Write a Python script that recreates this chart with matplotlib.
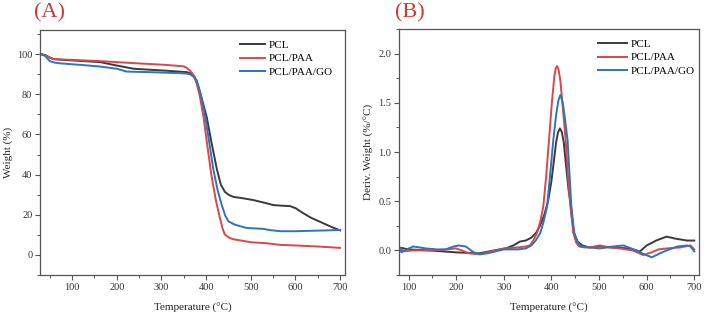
import matplotlib
matplotlib.use("Agg")
import matplotlib.pyplot as plt
from matplotlib.ticker import MultipleLocator

plt.rcParams['font.family'] = ['Liberation Serif', 'DejaVu Serif']

# ---------------- Panel A: TGA ----------------
tA_pcl = [30, 40, 50, 58, 80, 120, 163, 200, 238, 275, 320, 357, 365, 372, 380, 390, 401, 412,
          424, 433, 442, 450, 461, 480, 506, 530, 551, 570, 588, 600, 618, 635, 655, 680, 700]
wA_pcl = [100, 99.5, 98.3, 97.5, 97.1, 96.6, 96.0, 94.3, 92.7, 92.2, 91.6, 91.0, 90.4, 89, 85.5, 78, 69, 56,
          42.8, 35, 31.4, 30, 28.9, 28.3, 27.3, 26, 24.8, 24.5, 24.3, 23.3, 20.7, 18.5, 16.5, 14, 12.2]

tA_paa = [30, 40, 50, 58, 100, 163, 238, 312, 350, 357, 365, 375, 385, 394, 403, 412, 422, 431,
          437, 442, 452, 461, 480, 500, 536, 566, 600, 650, 700]
wA_paa = [100, 99.3, 98.2, 97.5, 97.1, 96.5, 95.5, 94.6, 93.9, 93.1, 91.5, 88.6, 80, 69, 54, 39.5, 27, 18.3,
          13, 10.1, 8.5, 7.8, 7.1, 6.3, 5.8, 5.0, 4.7, 4.2, 3.5]

tA_go = [30, 40, 50, 60, 73, 120, 163, 200, 222, 275, 342, 357, 364, 372, 379, 388, 398, 407, 416,
         426, 435, 443, 450, 465, 491, 527, 545, 566, 600, 650, 700]
wA_go = [100, 99, 96.5, 95.8, 95.4, 94.6, 93.8, 92.7, 91.3, 91.0, 90.5, 90.3, 89.9, 88.8, 87, 80, 69, 56, 42.8,
         32, 24.8, 19.5, 16.7, 15, 13.4, 13.0, 12.3, 11.8, 11.8, 12.1, 12.4]

# ---------------- Panel B: DTG ----------------
tB_pcl = [80, 100, 143, 200, 248, 280, 304, 320, 334, 346, 358, 368, 376, 385, 393, 400, 405, 410, 414,
          418, 422, 426, 431, 436, 441, 447, 455, 465, 480, 502, 530, 560, 586, 600, 620, 642, 660, 685, 700]
dB_pcl = [0.03, 0.01, 0.0, -0.02, -0.03, 0.0, 0.02, 0.05, 0.09, 0.1, 0.13, 0.18, 0.25, 0.36, 0.5, 0.7, 0.9, 1.1, 1.2,
          1.24, 1.2, 1.1, 0.85, 0.62, 0.445, 0.18, 0.09, 0.05, 0.03, 0.04, 0.03, 0.02, -0.01, 0.05, 0.1, 0.14, 0.12, 0.1, 0.1]

tB_paa = [80, 90, 110, 150, 180, 199, 212, 227, 248, 265, 283, 300, 330, 346, 355, 362, 370, 377, 383, 389,
          395, 401, 406, 409, 412, 415, 419, 424, 430, 435, 440, 446, 452, 458, 470, 480, 502, 520, 544, 570,
          593, 610, 625, 642, 670, 692, 700]
dB_paa = [0.03, -0.01, 0.0, 0.0, 0.01, 0.02, 0.0, -0.03, -0.04, -0.02, 0.0, 0.02, 0.03, 0.04, 0.05, 0.1, 0.18, 0.3, 0.445, 0.75,
          1.12, 1.5, 1.76, 1.85, 1.874, 1.84, 1.72, 1.45, 1.12, 0.75, 0.445, 0.18, 0.08, 0.04, 0.03, 0.03, 0.05, 0.03, 0.02, 0.0,
          -0.047, -0.02, 0.01, 0.02, 0.03, 0.05, 0.01]

tB_go = [80, 85, 92, 101, 110, 136, 160, 178, 195, 206, 220, 237, 251, 265, 283, 300, 330, 346, 358, 367,
         377, 384, 391, 397, 404, 410, 415, 419, 424, 429, 434, 442, 448, 455, 462, 480, 502, 530, 551, 579,
         595, 611, 628, 642, 665, 685, 692, 700]
dB_go = [0.03, -0.02, 0.0, 0.02, 0.04, 0.02, 0.01, 0.01, 0.04, 0.05, 0.04, -0.02, -0.04, -0.03, -0.01, 0.01, 0.01, 0.02, 0.05, 0.1,
         0.18, 0.3, 0.445, 0.75, 1.12, 1.38, 1.53, 1.58, 1.5, 1.32, 1.12, 0.445, 0.18, 0.08, 0.04, 0.03, 0.02, 0.04, 0.05, 0.0,
         -0.04, -0.07, -0.03, 0.0, 0.04, 0.05, 0.04, -0.01]

labels = ['PCL', 'PCL/PAA', 'PCL/PAA/GO']
colors = ['#3a3a3a', '#d8474b', '#2f72bd']

fig = plt.figure(figsize=(7.08, 3.16), dpi=100)
axA = fig.add_axes([40/708, 1-275/316, 305/708, 245/316])
axB = fig.add_axes([399/708, 1-275/316, 300/708, 246/316])

for t, w, lab, c in zip([tA_pcl, tA_paa, tA_go], [wA_pcl, wA_paa, wA_go], labels, colors):
    axA.plot(t, w, color=c, lw=1.4, label=lab)
for t, d, lab, c in zip([tB_pcl, tB_paa, tB_go], [dB_pcl, dB_paa, dB_go], labels, colors):
    axB.plot(t, d, color=c, lw=1.4, label=lab)

axA.set_xlim(28, 711)
axA.set_ylim(-10, 112)
axA.set_xticks([100, 200, 300, 400, 500, 600, 700])
axA.xaxis.set_minor_locator(MultipleLocator(50))
axA.set_yticks([0, 20, 40, 60, 80, 100])
axA.yaxis.set_minor_locator(MultipleLocator(10))

axB.set_xlim(80, 710)
axB.set_ylim(-0.25, 2.25)
axB.set_xticks([100, 200, 300, 400, 500, 600, 700])
axB.xaxis.set_minor_locator(MultipleLocator(50))
axB.set_yticks([0.0, 0.5, 1.0, 1.5, 2.0])
axB.yaxis.set_minor_locator(MultipleLocator(0.25))
axB.yaxis.set_major_formatter(matplotlib.ticker.FormatStrFormatter('%.1f'))

for ax in (axA, axB):
    for s in ax.spines.values():
        s.set_color('#555555')
        s.set_linewidth(0.9)
    ax.tick_params(which='major', direction='out', length=3.5, width=0.8, colors='#555555',
                   labelsize=7.5, labelcolor='#333333', pad=2)
    ax.tick_params(which='minor', direction='out', length=2, width=0.7, colors='#555555')
    ax.set_xlabel('Temperature (°C)', fontsize=8, color='#222222', labelpad=8)

axA.legend(loc='upper right', frameon=False, fontsize=8, handlelength=2.3, handletextpad=0.3,
           labelspacing=0.3, borderaxespad=0.0, bbox_to_anchor=(0.975, 0.975))
axB.legend(loc='upper right', frameon=False, fontsize=8, handlelength=2.6, handletextpad=0.3,
           labelspacing=0.3, borderaxespad=0.0, bbox_to_anchor=(1.0, 0.975))

axA.set_ylabel('Weight (%)', fontsize=8, color='#222222', labelpad=3)
axB.set_ylabel('Deriv. Weight (%/°C)', fontsize=8, color='#222222', labelpad=3)

fig.text(34/708, 1-3/316, '(A)', color='#d03a34', fontsize=16, va='top')
fig.text(395/708, 1-3/316, '(B)', color='#d03a34', fontsize=16, va='top')

fig.savefig('out.png', dpi=100)
